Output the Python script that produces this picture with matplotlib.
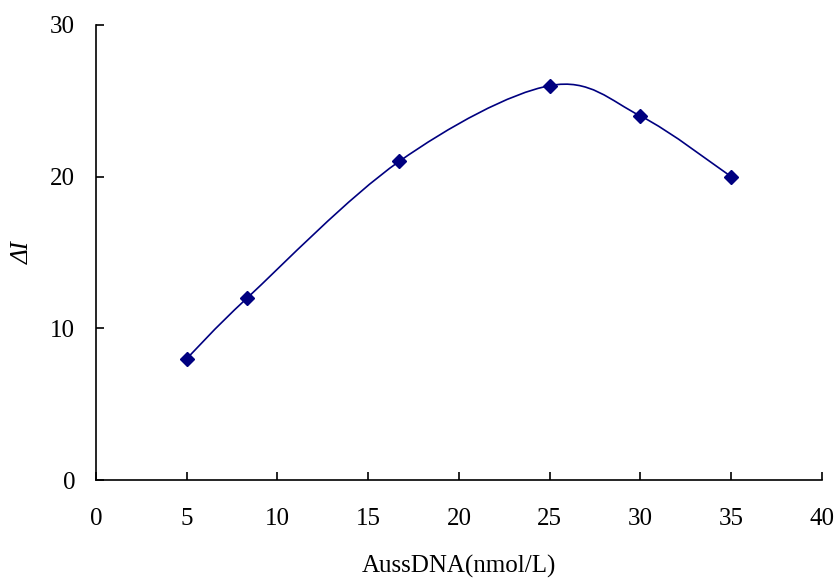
import matplotlib
matplotlib.use("Agg")
import matplotlib.pyplot as plt
from matplotlib.path import Path
from matplotlib.patches import PathPatch
import numpy as np

conc = [5, 8.33, 16.7, 25, 30, 35]
delta_i = [8, 12, 21, 26, 24, 20]
x_ticks = [0, 5, 10, 15, 20, 25, 30, 35, 40]
y_ticks = [0, 10, 20, 30]

navy = "#000080"
plt.rcParams["font.family"] = ["Liberation Serif", "DejaVu Serif"]


def smooth_path(xs, ys):
    # excel-style smoothed line: cubic bezier, tangents from neighbours
    pts = np.column_stack([xs, ys]).astype(float)
    n = len(pts)
    verts = [pts[0]]
    codes = [Path.MOVETO]
    for i in range(n - 1):
        p0 = pts[max(i - 1, 0)]
        p1 = pts[i]
        p2 = pts[i + 1]
        p3 = pts[min(i + 2, n - 1)]
        c1 = p1 + (p2 - p0) / 6
        c2 = p2 - (p3 - p1) / 6
        verts += [c1, c2, p2]
        codes += [Path.CURVE4] * 3
    return Path(verts, codes)


fig = plt.figure(figsize=(8.39, 5.81), dpi=100)
ax = fig.add_axes([0.1144, 0.1738, 0.8653, 0.7832])

ax.add_patch(PathPatch(smooth_path(conc, delta_i), facecolor="none",
                       edgecolor=navy, linewidth=1.2))
ax.plot(conc, delta_i, linestyle="none", marker="D", markersize=7.5,
        color=navy)

ax.set_xlim(0, 40)
ax.set_ylim(0, 30)
ax.set_xticks(x_ticks)
ax.set_yticks(y_ticks)
ax.spines["top"].set_visible(False)
ax.spines["right"].set_visible(False)
for s in ("left", "bottom"):
    ax.spines[s].set_linewidth(1.2)
ax.tick_params(direction="in", length=6, width=1.2, labelsize=18)
ax.tick_params(axis="x", pad=20)
ax.tick_params(axis="y", pad=15)

xl = ax.set_xlabel("AussDNA(nmol/L)", fontsize=18, labelpad=18)
ax.set_ylabel("ΔI", fontsize=18, style="italic", labelpad=12)

fig.savefig("out.png", dpi=100)
